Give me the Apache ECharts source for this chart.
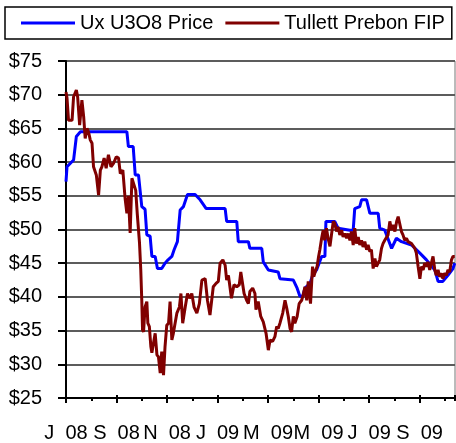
<!DOCTYPE html>
<html>
<head>
<meta charset="utf-8">
<script src="https://cdn.jsdelivr.net/npm/echarts@6/dist/echarts.min.js"></script>
<style>
html,body{margin:0;padding:0;background:#fff;}
#chart{width:456px;height:443px;}
</style>
</head>
<body>
<div id="chart"></div>
<script>
// Months since 1 Jul 2008 (fractional) and prices in US$/lb
var uxMonths = [0.0,0.04,0.30,0.41,0.57,2.41,2.47,2.66,2.74,2.87,3.00,3.13,3.20,3.33,3.40,3.53,3.62,3.79,3.92,4.04,4.19,4.28,4.41,4.52,4.65,4.81,5.11,5.31,5.55,6.30,6.36,6.76,6.82,7.22,7.28,7.75,7.81,8.01,8.40,8.47,9.00,9.15,9.26,9.37,9.46,9.66,9.76,9.92,10.12,10.25,10.29,10.64,10.77,11.24,11.37,11.43,11.63,11.70,11.90,12.03,12.36,12.42,12.62,12.89,13.08,13.28,13.68,14.01,14.27,14.60,14.73,14.92,15.12,15.32,15.39];
var uxPrices = [57.1,59.3,60.3,63.8,64.5,64.5,62.3,62.3,58.1,58.1,53.4,53.0,49.2,49.0,46.0,46.0,44.2,44.2,45.0,45.5,46.0,47.0,48.2,52.9,53.4,55.2,55.2,54.4,53.1,53.1,51.2,51.2,48.2,48.2,47.2,47.2,45.2,44.0,43.7,42.7,42.5,41.3,40.1,40.1,41.3,42.0,43.2,44.0,46.0,46.0,51.2,51.2,50.2,49.9,49.9,53.1,53.4,54.4,54.4,52.4,52.4,50.2,49.9,47.2,48.7,48.2,47.7,46.5,45.5,44.0,42.3,42.3,43.2,44.2,45.0];

var fipMonths = [0.0,0.04,0.10,0.24,0.30,0.41,0.46,0.54,0.63,0.70,0.76,0.83,0.89,0.96,1.03,1.09,1.20,1.29,1.36,1.42,1.51,1.59,1.68,1.78,1.88,1.99,2.08,2.15,2.25,2.34,2.41,2.47,2.54,2.61,2.68,2.76,2.82,2.91,2.96,3.00,3.03,3.07,3.13,3.20,3.24,3.30,3.36,3.40,3.46,3.53,3.60,3.66,3.73,3.79,3.86,3.92,3.99,4.06,4.12,4.19,4.25,4.32,4.39,4.49,4.55,4.62,4.72,4.81,4.89,4.98,5.07,5.18,5.28,5.38,5.51,5.60,5.70,5.83,5.94,6.03,6.10,6.21,6.30,6.36,6.43,6.55,6.65,6.76,6.86,6.92,6.97,7.05,7.15,7.22,7.28,7.39,7.48,7.52,7.61,7.71,7.81,7.92,8.01,8.08,8.18,8.27,8.34,8.40,8.47,8.58,8.67,8.74,8.80,8.87,8.93,9.00,9.06,9.15,9.23,9.33,9.39,9.46,9.53,9.59,9.68,9.76,9.81,9.89,9.94,10.00,10.05,10.12,10.18,10.24,10.31,10.38,10.45,10.51,10.58,10.64,10.71,10.77,10.84,10.91,10.97,11.04,11.11,11.17,11.24,11.30,11.37,11.43,11.50,11.57,11.63,11.70,11.76,11.83,11.90,11.96,12.03,12.09,12.16,12.23,12.29,12.36,12.42,12.49,12.55,12.62,12.69,12.75,12.82,12.89,12.95,13.02,13.09,13.15,13.21,13.28,13.34,13.41,13.48,13.54,13.61,13.68,13.74,13.81,13.87,13.94,14.01,14.07,14.14,14.20,14.27,14.33,14.40,14.53,14.60,14.66,14.73,14.79,14.86,14.92,14.99,15.06,15.12,15.19,15.26,15.32,15.39];
var fipPrices = [70.4,69.5,66.2,66.2,69.7,70.7,69.7,65.5,69.2,66.7,63.5,65.0,64.5,63.3,62.8,59.3,58.1,55.1,58.8,59.3,60.6,59.1,61.1,59.3,59.8,60.8,60.6,58.3,58.8,54.6,52.4,55.0,49.5,57.6,57.6,55.8,52.4,48.0,44.0,39.5,35.1,34.8,38.5,39.3,36.1,35.6,32.6,31.7,31.9,34.6,31.4,31.1,28.7,31.9,28.4,32.6,35.8,36.1,39.3,33.6,34.6,34.6,37.6,38.5,40.5,36.1,38.5,40.5,39.8,40.5,38.5,37.6,39.0,42.5,42.7,39.5,37.3,41.5,42.0,42.3,45.0,45.5,44.7,42.5,43.2,39.8,41.8,41.5,41.8,43.7,43.5,40.5,39.5,39.0,40.8,41.3,40.5,38.1,39.3,37.1,36.3,34.6,32.1,33.6,33.4,34.1,35.6,35.3,36.1,37.6,39.5,38.3,37.1,35.3,34.8,37.1,36.1,37.1,39.0,39.5,40.3,41.5,39.5,42.3,39.0,44.5,43.0,44.0,44.5,46.0,47.0,48.7,49.9,48.4,50.2,48.6,47.5,47.4,51.2,50.9,49.7,50.4,49.2,49.9,48.9,49.4,48.7,49.4,48.4,49.7,47.7,50.2,47.9,48.9,47.7,48.4,47.4,48.2,47.0,47.7,46.7,47.0,44.2,45.7,44.5,44.7,45.5,47.2,47.9,48.4,48.2,49.2,51.2,49.9,50.7,49.7,51.2,51.9,51.7,49.7,49.2,48.4,48.7,48.2,48.4,47.9,47.7,47.2,46.5,44.5,42.7,44.5,44.0,45.0,44.5,45.2,44.0,46.0,44.0,43.2,44.0,43.0,43.5,42.7,43.5,43.2,44.0,43.7,45.5,46.0,46.0];

var xTickLabels = ['J  08','S  08','N  08','J  09','M  09','M  09','J  09','S  09'];
var seriesNames = ['Ux U3O8 Price','Tullett Prebon FIP'];

function pairs(xs, ys){ var o=[]; for(var i=0;i<xs.length;i++) o.push([xs[i], ys[i]]); return o; }

var FONT = "'Liberation Sans', Arial, sans-serif";
var chart = echarts.init(document.getElementById('chart'), null, {renderer:'canvas'});
var xBase = {type:'value', min:0, max:15.4, gridIndex:0, position:'bottom'};
chart.setOption({
  animation:false,
  backgroundColor:'#ffffff',
  textStyle:{fontFamily:FONT},
  grid:{left:66, right:1, top:61, bottom:45, show:true, borderColor:'#777', borderWidth:1, backgroundColor:'transparent'},
  legend:{
    left:5, top:7, padding:[6,7,6,16], itemGap:12, itemWidth:54, itemHeight:3,
    icon:'rect', borderColor:'#000', borderWidth:1.5,
    textStyle:{fontFamily:FONT, fontSize:20, color:'#000'},
    data:seriesNames
  },
  xAxis:[
    Object.assign({}, xBase, {
      interval:2,
      axisLine:{show:true, lineStyle:{color:'#000', width:2}},
      axisTick:{show:true, length:5, lineStyle:{color:'#000', width:2}},
      splitLine:{show:false},
      axisLabel:{show:true, margin:25, fontSize:20, color:'#000', fontFamily:FONT,
        showMaxLabel:false,
        formatter:function(v){ var i=Math.round(v/2); return (Math.abs(v-2*i)<1e-6 && i<xTickLabels.length)? xTickLabels[i] : ''; }}
    }),
    Object.assign({}, xBase, {
      interval:1,
      axisLine:{show:false}, axisLabel:{show:false}, splitLine:{show:false},
      axisTick:{show:true, length:3, lineStyle:{color:'#000', width:2}}
    }),
    Object.assign({}, xBase, {
      interval:2,
      axisLine:{show:false}, axisLabel:{show:false}, splitLine:{show:false},
      axisTick:{show:true, inside:true, length:3, lineStyle:{color:'#000', width:2}}
    })
  ],
  yAxis:{
    type:'value', min:25, max:75, interval:5,
    axisLine:{show:true, lineStyle:{color:'#000', width:2}},
    axisTick:{show:true, length:8, lineStyle:{color:'#000', width:2}},
    splitLine:{show:true, lineStyle:{color:'#5c5c5c', width:2}},
    axisLabel:{margin:24, fontSize:20, color:'#000', fontFamily:FONT, formatter:function(v){return '$'+v;}}
  },
  series:[
    {name:seriesNames[0], type:'line', xAxisIndex:0, data:pairs(uxMonths, uxPrices), showSymbol:false, symbol:'none',
     lineStyle:{color:'#0000ff', width:3}, itemStyle:{color:'#0000ff'}},
    {name:seriesNames[1], type:'line', xAxisIndex:0, data:pairs(fipMonths, fipPrices), showSymbol:false, symbol:'none',
     lineStyle:{color:'#800000', width:3}, itemStyle:{color:'#800000'}}
  ]
});
</script>
</body>
</html>
